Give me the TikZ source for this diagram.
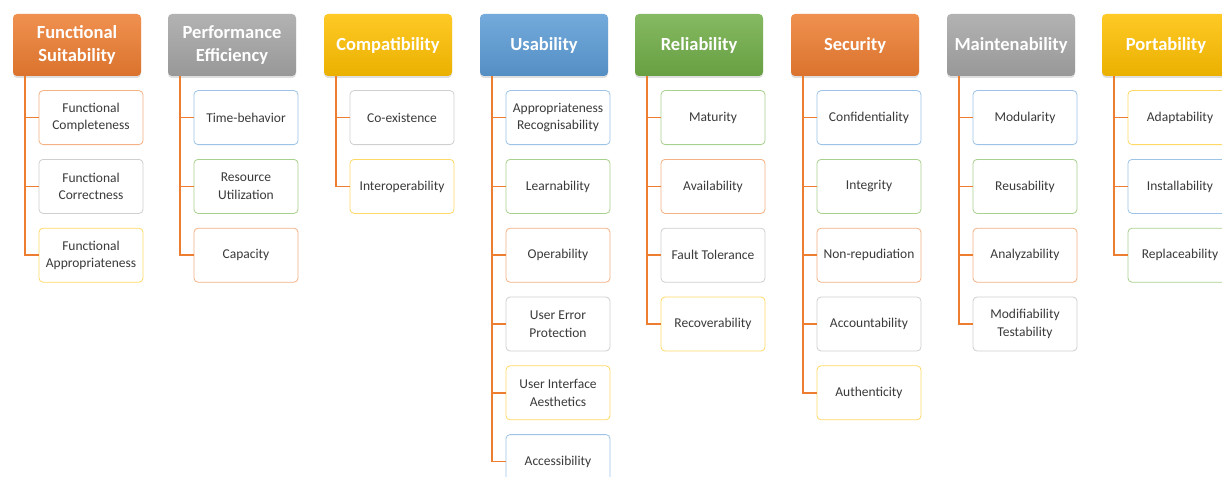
\documentclass[tikz,border=0pt]{standalone}
\usepackage{fontspec}
\setmainfont{Carlito}
\usepackage{tikz}
\usetikzlibrary{positioning,shadows}
\definecolor{cOrange}{HTML}{ED7D31}
\definecolor{cGray}{HTML}{A5A5A5}
\definecolor{cGold}{HTML}{FFC000}
\definecolor{cBlue}{HTML}{5B9BD5}
\definecolor{cGreen}{HTML}{70AD47}
\definecolor{bOrange}{HTML}{F4B183}
\definecolor{bGray}{HTML}{CFCFCF}
\definecolor{bGold}{HTML}{FFD966}
\definecolor{bBlue}{HTML}{9DC3E6}
\definecolor{bGreen}{HTML}{A9D18E}
\definecolor{txt}{HTML}{3A3A3A}
\tikzset{
  head/.style={rounded corners=4pt, minimum width=128pt, minimum height=62pt, align=center,
    top color=#1!85!white, bottom color=#1!92!black, draw=none, text=white,
    font=\fontsize{18.5}{22.5}\selectfont\bfseries,
    drop shadow={opacity=0.25, shadow xshift=0pt, shadow yshift=-2pt}},
  item/.style={draw=#1, rounded corners=4pt, fill=white, line width=0.8pt,
    minimum width=104pt, minimum height=54pt, align=center, text=txt,
    font=\fontsize{13.5}{17.5}\selectfont},
  branch/.style={draw=cOrange, line width=1.6pt},
}

\begin{document}
\begin{tikzpicture}[x=1pt, y=-1pt, node distance=14pt]
\useasboundingbox (0,0) rectangle (1222,476);
\clip (0,0) rectangle (1222,476);

% headers
\node (fs) [head=cOrange] at (77,45)   {Functional\\Suitability};
\node (pe) [head=cGray]   at (232,45)  {Performance\\Efficiency};
\node (co) [head=cGold]   at (388,45)  {Compatibility};
\node (us) [head=cBlue]   at (544,45)  {Usability};
\node (re) [head=cGreen]  at (699,45)  {Reliability};
\node (se) [head=cOrange] at (855,45)  {Security};
\node (ma) [head=cGray]   at (1011,45) {Maintenability};
\node (po) [head=cGold]   at (1166,45) {Portability};

% functional suitability
\node (fs1) [item=bOrange, below=of fs, xshift=14pt] {Functional\\Completeness};
\node (fs2) [item=bGray,   below=of fs1] {Functional\\Correctness};
\node (fs3) [item=bGold,   below=of fs2] {Functional\\Appropriateness};

% performance efficiency
\node (pe1) [item=bBlue,   below=of pe, xshift=14pt] {Time-behavior};
\node (pe2) [item=bGreen,  below=of pe1] {Resource\\Utilization};
\node (pe3) [item=bOrange, below=of pe2] {Capacity};

% compatibility
\node (co1) [item=bGray, below=of co, xshift=14pt] {Co-existence};
\node (co2) [item=bGold, below=of co1] {Interoperability};

% usability
\node (us1) [item=bBlue,   below=of us, xshift=14pt] {Appropriateness\\Recognisability};
\node (us2) [item=bGreen,  below=of us1] {Learnability};
\node (us3) [item=bOrange, below=of us2] {Operability};
\node (us4) [item=bGray,   below=of us3] {User Error\\Protection};
\node (us5) [item=bGold,   below=of us4] {User Interface\\Aesthetics};
\node (us6) [item=bBlue,   below=of us5] {Accessibility};

% reliability
\node (re1) [item=bGreen,  below=of re, xshift=14pt] {Maturity};
\node (re2) [item=bOrange, below=of re1] {Availability};
\node (re3) [item=bGray,   below=of re2] {Fault Tolerance};
\node (re4) [item=bGold,   below=of re3] {Recoverability};

% security
\node (se1) [item=bBlue,   below=of se, xshift=14pt] {Confidentiality};
\node (se2) [item=bGreen,  below=of se1] {Integrity};
\node (se3) [item=bOrange, below=of se2] {Non-repudiation};
\node (se4) [item=bGray,   below=of se3] {Accountability};
\node (se5) [item=bGold,   below=of se4] {Authenticity};

% maintenability
\node (ma1) [item=bBlue,   below=of ma, xshift=14pt] {Modularity};
\node (ma2) [item=bGreen,  below=of ma1] {Reusability};
\node (ma3) [item=bOrange, below=of ma2] {Analyzability};
\node (ma4) [item=bGray,   below=of ma3] {Modifiability\\Testability};

% portability
\node (po1) [item=bGold,  below=of po, xshift=14pt] {Adaptability};
\node (po2) [item=bBlue,  below=of po1] {Installability};
\node (po3) [item=bGreen, below=of po2] {Replaceability};

% branches
\foreach \h/\kids in {fs/{1,2,3}, pe/{1,2,3}, co/{1,2}, us/{1,2,3,4,5,6},
                      re/{1,2,3,4}, se/{1,2,3,4,5}, ma/{1,2,3,4}, po/{1,2,3}} {
  \coordinate (\h-root) at ([xshift=12pt]\h.south west);
  \foreach \k in \kids
    \draw[branch] (\h-root) |- (\h\k.west);
}
\end{tikzpicture}
\end{document}
